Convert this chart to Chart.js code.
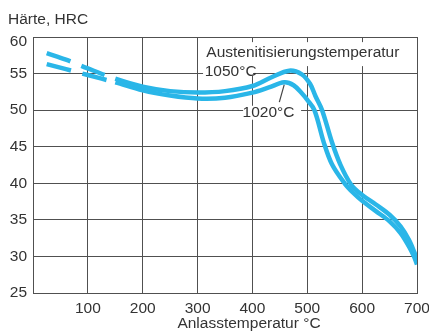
<!DOCTYPE html>
<html>
<head>
<meta charset="utf-8">
<script src="https://cdn.jsdelivr.net/npm/chart.js@4/dist/chart.umd.min.js"></script>
<style>
  html, body { margin: 0; padding: 0; background: #fff; }
  #c { display: block; }
</style>
</head>
<body>
<canvas id="c" width="429" height="333"></canvas>
<script>
// Anlasskurven: Härte über Anlasstemperatur für zwei Austenitisierungstemperaturen
const temp1050 = [25, 60, 100, 150, 200, 250, 300, 350, 400, 435, 467, 490, 505, 515, 527, 545, 560, 580, 600, 625, 650, 670, 685, 695, 700];
const hrc1050  = [57.8, 56.9, 55.7, 54.3, 53.2, 52.6, 52.4, 52.6, 53.3, 54.5, 55.4, 54.9, 53.6, 51.9, 50.0, 45.6, 42.6, 39.8, 38.4, 37.1, 35.7, 34.1, 32.3, 30.6, 29.5];

const temp1020 = [25, 60, 100, 150, 200, 250, 300, 350, 400, 430, 458, 475, 490, 500, 513, 530, 545, 568, 585, 600, 625, 650, 670, 685, 695, 700];
const hrc1020  = [56.3, 55.6, 54.8, 53.8, 52.7, 52.0, 51.6, 51.7, 52.4, 53.1, 53.8, 53.4, 52.3, 51.4, 50.0, 45.6, 42.6, 40.0, 38.6, 37.6, 36.2, 34.8, 33.2, 31.4, 29.9, 28.9];

// Achsen
const xTicks = [0, 100, 200, 300, 400, 500, 600, 700];
const yTicks = [25, 30, 35, 40, 45, 50, 55, 60];

// Beschriftungen
const yTitle = 'Härte, HRC';
const xTitle = 'Anlasstemperatur °C';
const legendTitle = 'Austenitisierungstemperatur';
const label1050 = '1050°C';
const label1020 = '1020°C';

// unterhalb dieser Temperatur sind die Kurven gestrichelt
const dashedUpTo = 150;

const FONT = '"Liberation Sans", Arial, Helvetica, sans-serif';
const FONT_SIZE = 15.5;
const TEXT = '#333';
const GRID = '#505050';
const CURVE = '#2ab6e8';

const toPoints = (xs, ys) => xs.map((x, i) => ({ x, y: ys[i] }));

const curveStyle = {
  borderColor: CURVE,
  borderWidth: 4.5,
  pointRadius: 0,
  fill: false,
  tension: 0.35,
  segment: {
    borderDash: ctx => (ctx.p1.parsed.x <= dashedUpTo ? [25, 12] : undefined)
  }
};

// Texte und Kästchen im Diagramm, Achsenbeschriftung der y-Achse
const annotations = {
  id: 'annotations',
  beforeDatasetsDraw(chart) {
    const { ctx } = chart;
    const xs = chart.scales.x, ys = chart.scales.y;
    ctx.save();
    ctx.fillStyle = '#fff';
    // Legendenbereich deckt das Gitter ab
    ctx.fillRect(xs.getPixelForValue(310), ys.getPixelForValue(59.3), 200, 24);
    ctx.fillRect(xs.getPixelForValue(310), ys.getPixelForValue(56.6), 50, 14);
    ctx.fillRect(xs.getPixelForValue(383), ys.getPixelForValue(50.6), 58, 14);

    ctx.font = FONT_SIZE + 'px ' + FONT;
    ctx.fillStyle = TEXT;
    ctx.textBaseline = 'middle';
    ctx.textAlign = 'left';
    ctx.fillText(legendTitle, xs.getPixelForValue(316), ys.getPixelForValue(57.8));
    ctx.fillText(label1050, xs.getPixelForValue(313), ys.getPixelForValue(55.2));
    ctx.fillText(label1020, xs.getPixelForValue(382), ys.getPixelForValue(49.6));

    // Bezugslinie zu 1020°C
    ctx.strokeStyle = '#444';
    ctx.lineWidth = 1.2;
    ctx.beginPath();
    ctx.moveTo(xs.getPixelForValue(449), ys.getPixelForValue(51.1));
    ctx.lineTo(xs.getPixelForValue(458), ys.getPixelForValue(53.5));
    ctx.stroke();
    ctx.restore();
  },
  afterDraw(chart) {
    const { ctx } = chart;
    const ys = chart.scales.y;
    ctx.save();
    ctx.font = FONT_SIZE + 'px ' + FONT;
    ctx.fillStyle = TEXT;
    ctx.textBaseline = 'middle';
    ctx.textAlign = 'right';
    yTicks.forEach((v, i) => {
      const top = i === yTicks.length - 1 ? 5 : 0;
      ctx.fillText(String(v), ys.left + ys.width - 6, ys.getPixelForValue(v) + top);
    });
    ctx.textAlign = 'left';
    ctx.fillText(yTitle, 8, 20);
    ctx.textAlign = 'center';
    ctx.fillText(xTitle, 249, 324);
    ctx.restore();
  }
};

new Chart(document.getElementById('c'), {
  type: 'line',
  data: {
    datasets: [
      { label: label1050, data: toPoints(temp1050, hrc1050), ...curveStyle },
      { label: label1020, data: toPoints(temp1020, hrc1020), ...curveStyle }
    ]
  },
  options: {
    responsive: false,
    animation: false,
    events: [],
    layout: { padding: { top: 37, right: 12, left: 0, bottom: 0 } },
    plugins: { legend: { display: false }, tooltip: { enabled: false } },
    scales: {
      x: {
        type: 'linear',
        min: xTicks[0],
        max: xTicks[xTicks.length - 1],
        afterBuildTicks: s => { s.ticks = xTicks.map(v => ({ value: v })); },
        afterFit: s => { s.height = 40; s.paddingLeft = 0; s.paddingRight = 0; },
        ticks: {
          color: TEXT,
          font: { family: FONT, size: FONT_SIZE },
          padding: 6,
          maxRotation: 0,
          callback: v => (v === 0 ? '' : String(v))
        },
        grid: { color: GRID, lineWidth: 1, drawTicks: false },
        border: { color: GRID, width: 1 }
      },
      y: {
        type: 'linear',
        min: yTicks[0],
        max: yTicks[yTicks.length - 1],
        afterBuildTicks: s => { s.ticks = yTicks.map(v => ({ value: v })); },
        afterFit: s => { s.width = 33; s.paddingTop = 0; s.paddingBottom = 0; },
        ticks: { display: false },
        grid: { color: GRID, lineWidth: 1, drawTicks: false },
        border: { color: GRID, width: 1 }
      }
    }
  },
  plugins: [annotations]
});
</script>
</body>
</html>
